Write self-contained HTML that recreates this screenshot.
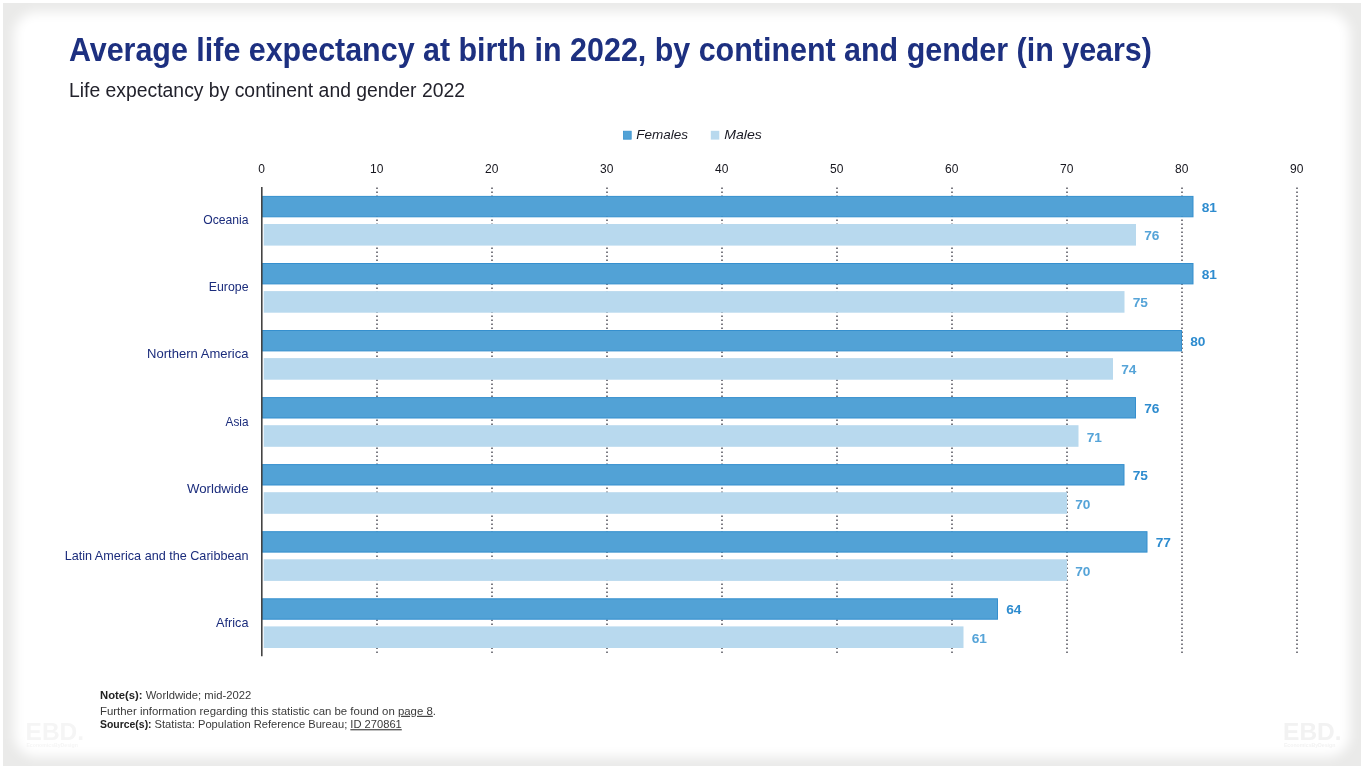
<!DOCTYPE html>
<html lang="en"><head><meta charset="utf-8"><title>Average life expectancy at birth in 2022, by continent and gender (in years)</title>
<style>
html,body{margin:0;padding:0;background:#fff;}
body{width:1366px;height:768px;overflow:hidden;position:relative;font-family:"Liberation Sans",sans-serif;}
#frame{position:absolute;left:3px;top:3px;width:1358px;height:763px;background:#eaeae9;overflow:hidden;}
#glow{position:absolute;left:11px;top:9px;right:11px;bottom:9.5px;background:#fff;border-radius:22px;filter:blur(6px);}
svg{position:absolute;left:0;top:0;}
text{font-family:"Liberation Sans",sans-serif;}
</style></head><body>
<div id="frame"><div id="glow"></div></div>
<svg width="1366" height="768" viewBox="0 0 1366 768">
<text x="25.6" y="739.7" font-size="24.5" fill="#f5f5f5" font-weight="bold" textLength="58.5" lengthAdjust="spacingAndGlyphs">EBD.</text>
<text x="26.4" y="747.2" font-size="5.2" fill="#f5f5f5" font-weight="bold" textLength="51.5" lengthAdjust="spacingAndGlyphs">EconomicsByDesign</text>
<text x="1283.1" y="739.7" font-size="24.5" fill="#f2f2f2" font-weight="bold" textLength="58.5" lengthAdjust="spacingAndGlyphs">EBD.</text>
<text x="1283.9" y="747.2" font-size="5.2" fill="#f2f2f2" font-weight="bold" textLength="51.5" lengthAdjust="spacingAndGlyphs">EconomicsByDesign</text>
<text x="68.9" y="60.6" font-size="32.5" fill="#1d3080" font-weight="bold" textLength="1083" lengthAdjust="spacingAndGlyphs">Average life expectancy at birth in 2022, by continent and gender (in years)</text>
<text x="69" y="97.4" font-size="19.5" fill="#22222c" textLength="396" lengthAdjust="spacingAndGlyphs">Life expectancy by continent and gender 2022</text>
<rect x="623.4" y="131.2" width="7.8" height="8" fill="#52a2d6" stroke="#3a93cf" stroke-width="0.8"/>
<text x="636.3" y="139.4" font-size="13.6" fill="#1a1a24" font-style="italic" textLength="51.8" lengthAdjust="spacingAndGlyphs">Females</text>
<rect x="710.8" y="130.8" width="8.5" height="8.8" fill="#b8d9ee"/>
<text x="724.2" y="139.4" font-size="13.6" fill="#1a1a24" font-style="italic" textLength="37.6" lengthAdjust="spacingAndGlyphs">Males</text>
<text x="261.7" y="172.9" font-size="12" fill="#16161e" text-anchor="middle">0</text>
<text x="376.7" y="172.9" font-size="12" fill="#16161e" text-anchor="middle">10</text>
<line x1="377.0" y1="187.4" x2="377.0" y2="655.4" stroke="#6e6e76" stroke-width="1.8" stroke-dasharray="1.7 2.3"/>
<text x="491.7" y="172.9" font-size="12" fill="#16161e" text-anchor="middle">20</text>
<line x1="492.0" y1="187.4" x2="492.0" y2="655.4" stroke="#6e6e76" stroke-width="1.8" stroke-dasharray="1.7 2.3"/>
<text x="606.7" y="172.9" font-size="12" fill="#16161e" text-anchor="middle">30</text>
<line x1="607.0" y1="187.4" x2="607.0" y2="655.4" stroke="#6e6e76" stroke-width="1.8" stroke-dasharray="1.7 2.3"/>
<text x="721.7" y="172.9" font-size="12" fill="#16161e" text-anchor="middle">40</text>
<line x1="722.0" y1="187.4" x2="722.0" y2="655.4" stroke="#6e6e76" stroke-width="1.8" stroke-dasharray="1.7 2.3"/>
<text x="836.7" y="172.9" font-size="12" fill="#16161e" text-anchor="middle">50</text>
<line x1="837.0" y1="187.4" x2="837.0" y2="655.4" stroke="#6e6e76" stroke-width="1.8" stroke-dasharray="1.7 2.3"/>
<text x="951.7" y="172.9" font-size="12" fill="#16161e" text-anchor="middle">60</text>
<line x1="952.0" y1="187.4" x2="952.0" y2="655.4" stroke="#6e6e76" stroke-width="1.8" stroke-dasharray="1.7 2.3"/>
<text x="1066.7" y="172.9" font-size="12" fill="#16161e" text-anchor="middle">70</text>
<line x1="1067.0" y1="187.4" x2="1067.0" y2="655.4" stroke="#6e6e76" stroke-width="1.8" stroke-dasharray="1.7 2.3"/>
<text x="1181.7" y="172.9" font-size="12" fill="#16161e" text-anchor="middle">80</text>
<line x1="1182.0" y1="187.4" x2="1182.0" y2="655.4" stroke="#6e6e76" stroke-width="1.8" stroke-dasharray="1.7 2.3"/>
<text x="1296.7" y="172.9" font-size="12" fill="#16161e" text-anchor="middle">90</text>
<line x1="1297.0" y1="187.4" x2="1297.0" y2="655.4" stroke="#6e6e76" stroke-width="1.8" stroke-dasharray="1.7 2.3"/>
<rect x="262.0" y="196.4" width="931.0" height="20.4" fill="#52a2d6" stroke="#358fce" stroke-width="1"/>
<rect x="263.7" y="224.0" width="872.3" height="21.6" fill="#b8d9ee"/>
<text x="1201.7" y="211.8" font-size="13.7" fill="#2e8ccf" font-weight="bold">81</text>
<text x="1144.2" y="240.3" font-size="13.7" fill="#56a4d8" font-weight="bold">76</text>
<text x="203.2" y="224.3" font-size="13" fill="#1b2c7c" textLength="45.3" lengthAdjust="spacingAndGlyphs">Oceania</text>
<rect x="262.0" y="263.5" width="931.0" height="20.4" fill="#52a2d6" stroke="#358fce" stroke-width="1"/>
<rect x="263.7" y="291.1" width="860.8" height="21.6" fill="#b8d9ee"/>
<text x="1201.7" y="278.9" font-size="13.7" fill="#2e8ccf" font-weight="bold">81</text>
<text x="1132.7" y="307.4" font-size="13.7" fill="#56a4d8" font-weight="bold">75</text>
<text x="208.8" y="291.4" font-size="13" fill="#1b2c7c" textLength="39.7" lengthAdjust="spacingAndGlyphs">Europe</text>
<rect x="262.0" y="330.5" width="919.5" height="20.4" fill="#52a2d6" stroke="#358fce" stroke-width="1"/>
<rect x="263.7" y="358.1" width="849.3" height="21.6" fill="#b8d9ee"/>
<text x="1190.2" y="345.9" font-size="13.7" fill="#2e8ccf" font-weight="bold">80</text>
<text x="1121.2" y="374.4" font-size="13.7" fill="#56a4d8" font-weight="bold">74</text>
<text x="147.1" y="358.4" font-size="13" fill="#1b2c7c" textLength="101.4" lengthAdjust="spacingAndGlyphs">Northern America</text>
<rect x="262.0" y="397.6" width="873.5" height="20.4" fill="#52a2d6" stroke="#358fce" stroke-width="1"/>
<rect x="263.7" y="425.2" width="814.8" height="21.6" fill="#b8d9ee"/>
<text x="1144.2" y="413.0" font-size="13.7" fill="#2e8ccf" font-weight="bold">76</text>
<text x="1086.7" y="441.5" font-size="13.7" fill="#56a4d8" font-weight="bold">71</text>
<text x="225.6" y="425.5" font-size="13" fill="#1b2c7c" textLength="22.9" lengthAdjust="spacingAndGlyphs">Asia</text>
<rect x="262.0" y="464.6" width="862.0" height="20.4" fill="#52a2d6" stroke="#358fce" stroke-width="1"/>
<rect x="263.7" y="492.2" width="803.3" height="21.6" fill="#b8d9ee"/>
<text x="1132.7" y="480.0" font-size="13.7" fill="#2e8ccf" font-weight="bold">75</text>
<text x="1075.2" y="508.5" font-size="13.7" fill="#56a4d8" font-weight="bold">70</text>
<text x="187.0" y="492.5" font-size="13" fill="#1b2c7c" textLength="61.5" lengthAdjust="spacingAndGlyphs">Worldwide</text>
<rect x="262.0" y="531.7" width="885.0" height="20.4" fill="#52a2d6" stroke="#358fce" stroke-width="1"/>
<rect x="263.7" y="559.3" width="803.3" height="21.6" fill="#b8d9ee"/>
<text x="1155.7" y="547.1" font-size="13.7" fill="#2e8ccf" font-weight="bold">77</text>
<text x="1075.2" y="575.6" font-size="13.7" fill="#56a4d8" font-weight="bold">70</text>
<text x="64.7" y="559.6" font-size="13" fill="#1b2c7c" textLength="183.8" lengthAdjust="spacingAndGlyphs">Latin America and the Caribbean</text>
<rect x="262.0" y="598.8" width="735.5" height="20.4" fill="#52a2d6" stroke="#358fce" stroke-width="1"/>
<rect x="263.7" y="626.4" width="699.8" height="21.6" fill="#b8d9ee"/>
<text x="1006.2" y="614.2" font-size="13.7" fill="#2e8ccf" font-weight="bold">64</text>
<text x="971.7" y="642.7" font-size="13.7" fill="#56a4d8" font-weight="bold">61</text>
<text x="216.1" y="626.7" font-size="13" fill="#1b2c7c" textLength="32.4" lengthAdjust="spacingAndGlyphs">Africa</text>
<line x1="261.8" y1="187" x2="261.8" y2="656.2" stroke="#444" stroke-width="1.6"/>
<text x="100" y="699.4" font-size="11.3" fill="#3a3a3a" textLength="151.3" lengthAdjust="spacingAndGlyphs"><tspan font-weight="bold" fill="#222">Note(s):</tspan> Worldwide; mid-2022</text>
<text x="100" y="714.8" font-size="11.3" fill="#3a3a3a" textLength="336" lengthAdjust="spacingAndGlyphs">Further information regarding this statistic can be found on <tspan text-decoration="underline">page 8</tspan>.</text>
<text x="100" y="728.2" font-size="11.3" fill="#222" font-weight="bold" textLength="51.6" lengthAdjust="spacingAndGlyphs">Source(s):</text>
<text x="154.6" y="728.2" font-size="11.3" fill="#3a3a3a" textLength="247.2" lengthAdjust="spacingAndGlyphs">Statista: Population Reference Bureau; <tspan text-decoration="underline">ID 270861</tspan></text>
</svg>
</body></html>
